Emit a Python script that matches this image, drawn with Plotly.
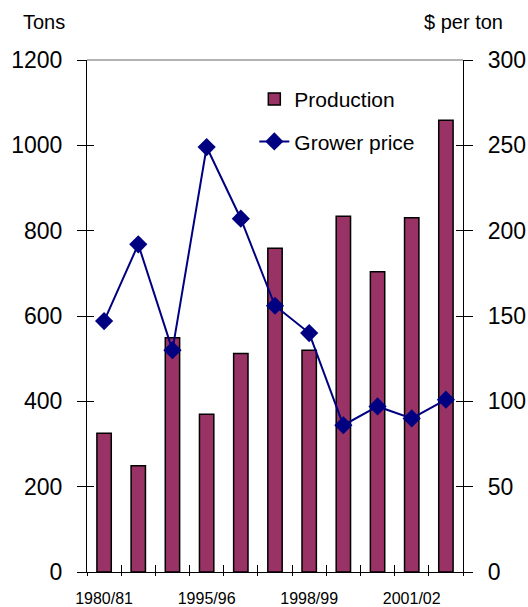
import plotly.graph_objects as go

# Marketing seasons
seasons = ["1980/81", "1985/86", "1990/91", "1995/96", "1996/97", "1997/98",
           "1998/99", "1999/00", "2000/01", "2001/02", "2002/03"]
labeled_seasons = ["1980/81", "1995/96", "1998/99", "2001/02"]

# Production (tons) and grower price ($ per ton)
production = [325, 249, 549, 370, 512, 759, 520, 834, 704, 830, 1059]
grower_price = [147, 192, 130, 249, 207, 156, 140, 86, 97, 90, 101]

# boundaries between seasons for tick marks
bounds = [i - 0.5 for i in range(len(seasons) + 1)]

FONT = "Liberation Sans, Arial, sans-serif"
BAR = "#993366"
LINE = "#000080"

fig = go.Figure()
fig.add_trace(go.Bar(
    x=seasons, y=production, name="Production", legendgroup="prod",
    marker=dict(color=BAR, line=dict(color="black", width=1.5)),
    width=0.42, xaxis="x", yaxis="y",
))
fig.add_trace(go.Scatter(
    x=seasons, y=grower_price, name="Grower price", legendgroup="price",
    mode="lines+markers",
    line=dict(color=LINE, width=2),
    marker=dict(symbol="diamond", size=14, color=LINE),
    xaxis="x", yaxis="y2",
))

# empty helper traces so the tick-only overlay axes get drawn
for xa, ya in [("x2", "y"), ("x3", "y"), ("x", "y3"), ("x", "y4")]:
    fig.add_trace(go.Scatter(x=[None], y=[None], xaxis=xa, yaxis=ya,
                             showlegend=False, hoverinfo="skip", mode="markers"))

tick_common = dict(tickcolor="black", tickwidth=1.2, showgrid=False,
                   zeroline=False, automargin=False)

fig.update_layout(
    width=528, height=607,
    margin=dict(l=87, r=65, t=60, b=35, autoexpand=False),
    paper_bgcolor="white", plot_bgcolor="white",
    font=dict(family=FONT, color="black"),
    showlegend=True,
    legend=dict(x=0.445, y=0.963, xanchor="left", yanchor="top",
                bgcolor="rgba(0,0,0,0)", font=dict(size=21), tracegroupgap=12),
    xaxis=dict(
        type="category", categoryorder="array", categoryarray=seasons,
        range=[-0.5, len(seasons) - 0.5],
        tickmode="array", tickvals=labeled_seasons, ticktext=labeled_seasons,
        ticks="", showline=True, linecolor="black", linewidth=1.2,
        tickfont=dict(size=16), ticklabelstandoff=12,
        showgrid=False, automargin=False,
    ),
    xaxis2=dict(
        overlaying="x", anchor="y", range=[-0.5, len(seasons) - 0.5],
        tickmode="array", tickvals=bounds, showticklabels=False,
        ticks="outside", ticklen=3, showline=False, **tick_common,
    ),
    xaxis3=dict(
        overlaying="x", anchor="y", range=[-0.5, len(seasons) - 0.5],
        tickmode="array", tickvals=bounds, showticklabels=False,
        ticks="inside", ticklen=7, showline=False, **tick_common,
    ),
    yaxis=dict(
        range=[0, 1200], dtick=200, ticks="outside", ticklen=9,
        showline=True, linecolor="black", linewidth=1.2,
        tickfont=dict(size=23), ticklabelstandoff=10, **tick_common,
    ),
    yaxis2=dict(
        overlaying="y", side="right", anchor="x",
        range=[0, 300], dtick=50, ticks="outside", ticklen=9,
        showline=True, linecolor="black", linewidth=1.2,
        tickfont=dict(size=23), ticklabelstandoff=10, **tick_common,
    ),
    yaxis3=dict(
        overlaying="y", side="left", anchor="x",
        range=[0, 1200], dtick=200, ticks="inside", ticklen=7,
        showticklabels=False, showline=False, **tick_common,
    ),
    yaxis4=dict(
        overlaying="y", side="right", anchor="x",
        range=[0, 300], dtick=50, ticks="inside", ticklen=7,
        showticklabels=False, showline=False, **tick_common,
    ),
    shapes=[dict(type="line", xref="paper", yref="paper", x0=0, x1=1, y0=1, y1=1,
                 line=dict(color="#999999", width=1.5), layer="below")],
    annotations=[
        dict(text="Tons", xref="paper", yref="paper", x=-0.115, y=1.075,
             xanchor="center", yanchor="middle", showarrow=False, font=dict(size=20)),
        dict(text="$ per ton", xref="paper", yref="paper", x=1.0, y=1.075,
             xanchor="center", yanchor="middle", showarrow=False, font=dict(size=20)),
    ],
)

fig.write_html("out.html")
